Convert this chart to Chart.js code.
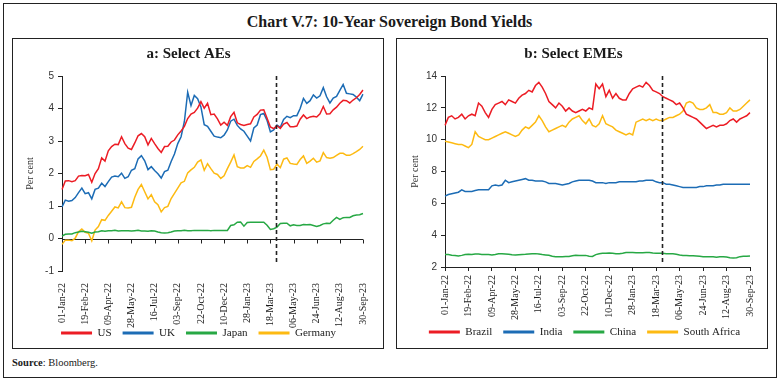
<!DOCTYPE html>
<html>
<head>
<meta charset="utf-8">
<script src="https://cdn.jsdelivr.net/npm/chart.js@4.4.0/dist/chart.umd.min.js"></script>
<style>
  html, body { margin: 0; padding: 0; background: #fff; }
  #wrap { position: relative; width: 779px; height: 381px; overflow: hidden; font-family: 'Liberation Serif', serif; color: #1a1a1a; }
  #frame { position: absolute; left: 3px; top: 3px; width: 774px; height: 375px; border: 1px solid #222; box-sizing: border-box; }
  #title { position: absolute; left: 0; top: 12px; width: 779px; text-align: center; font-weight: bold; font-size: 16px; line-height: 20px; }
  .panel { position: absolute; top: 38px; width: 372px; height: 311px; border: 1px solid #222; box-sizing: border-box; }
  #pa { left: 12px; }
  #pb { left: 396px; }
  canvas { position: absolute; left: 0; top: 0; }
  #source { position: absolute; left: 12px; top: 356px; font-size: 10.5px; line-height: 14px; }
</style>
</head>
<body>
<div id="wrap">
  <div id="frame"></div>
  <div id="title">Chart V.7: 10-Year Sovereign Bond Yields</div>
  <div class="panel" id="pa"><canvas id="ca" width="370" height="309"></canvas></div>
  <div class="panel" id="pb"><canvas id="cb" width="370" height="309"></canvas></div>
  <div id="source"><b>Source</b>: Bloomberg.</div>
</div>
<script>
// ---------- DATA ----------
const TICK_LABELS = ['01-Jan-22','19-Feb-22','09-Apr-22','28-May-22','16-Jul-22','03-Sep-22','22-Oct-22',
  '10-Dec-22','28-Jan-23','18-Mar-23','06-May-23','24-Jun-23','12-Aug-23','30-Sep-23'];
const N_WEEKS = 92;                 // weekly observations, 01-Jan-22 .. 30-Sep-23
const MARKER_WEEK = 64.8;           // dashed vertical marker (end-March 2023)

const US = [1.51,1.77,1.78,1.75,1.78,1.92,1.94,1.93,1.97,1.73,2.00,2.15,2.48,2.38,2.70,2.83,2.90,2.89,3.13,2.92,
  2.78,2.74,2.94,3.16,3.23,3.13,2.88,3.08,2.92,2.77,2.65,2.83,2.84,2.97,3.03,3.19,3.31,3.45,3.69,3.83,
  3.88,4.01,4.21,4.01,4.16,3.81,3.83,3.68,3.49,3.58,3.48,3.75,3.88,3.56,3.51,3.48,3.51,3.53,3.74,3.82,
  3.95,3.96,3.70,3.43,3.38,3.47,3.39,3.52,3.57,3.44,3.44,3.46,3.67,3.80,3.69,3.74,3.76,3.74,3.84,4.06,
  3.83,3.84,3.96,4.04,4.16,4.25,4.24,4.17,4.26,4.33,4.43,4.57];
const UK = [0.97,1.18,1.15,1.17,1.26,1.41,1.55,1.38,1.41,1.22,1.51,1.55,1.70,1.60,1.75,1.89,1.92,1.90,2.01,1.85,
  1.90,2.10,2.15,2.45,2.55,2.39,2.12,2.21,2.09,1.99,1.86,2.06,2.10,2.37,2.60,2.92,3.13,3.60,4.50,4.09,
  4.40,4.30,4.05,3.50,3.45,3.30,3.15,3.12,3.10,3.18,3.34,3.61,3.67,3.48,3.37,3.30,3.15,3.00,3.40,3.49,
  3.81,3.85,3.63,3.28,3.34,3.49,3.42,3.66,3.76,3.72,3.78,3.78,4.00,4.31,4.16,4.24,4.42,4.32,4.39,4.64,
  4.36,4.17,4.32,4.37,4.56,4.74,4.47,4.45,4.43,4.35,4.24,4.44];
const JAPAN = [0.07,0.13,0.14,0.14,0.18,0.20,0.22,0.21,0.19,0.16,0.20,0.21,0.24,0.22,0.24,0.24,0.25,0.23,0.24,0.24,
  0.24,0.23,0.24,0.25,0.23,0.23,0.22,0.24,0.23,0.20,0.18,0.17,0.18,0.20,0.23,0.24,0.24,0.25,0.24,0.24,
  0.25,0.25,0.25,0.25,0.25,0.24,0.25,0.25,0.25,0.25,0.25,0.40,0.42,0.50,0.51,0.38,0.49,0.50,0.50,0.50,
  0.50,0.50,0.41,0.28,0.30,0.35,0.46,0.47,0.47,0.39,0.42,0.40,0.40,0.43,0.42,0.43,0.40,0.37,0.40,0.45,
  0.47,0.46,0.56,0.65,0.59,0.64,0.65,0.65,0.70,0.72,0.73,0.77];
const GERMANY = [-0.18,-0.05,-0.05,-0.07,0.01,0.21,0.29,0.19,0.16,-0.07,0.26,0.37,0.58,0.56,0.71,0.84,0.97,0.94,1.13,0.95,
  0.94,0.96,1.27,1.51,1.66,1.44,1.22,1.35,1.13,1.04,0.82,0.95,0.99,1.23,1.39,1.55,1.71,1.76,2.02,2.11,
  2.19,2.35,2.42,2.10,2.30,2.15,2.01,1.97,1.85,1.93,2.15,2.35,2.57,2.21,2.17,2.17,2.24,2.19,2.37,2.45,
  2.54,2.72,2.50,2.12,2.13,2.29,2.18,2.44,2.48,2.31,2.29,2.28,2.43,2.54,2.31,2.38,2.47,2.35,2.39,2.64,
  2.49,2.47,2.49,2.56,2.62,2.62,2.56,2.56,2.61,2.67,2.74,2.84];

const BRAZIL = [10.9,11.4,11.5,11.3,11.4,11.6,11.3,11.5,11.6,11.5,12.3,12.1,11.7,11.4,11.9,12.2,12.3,12.4,12.2,12.5,
  12.4,12.3,12.6,12.8,12.9,13.1,13.0,13.4,13.6,13.3,12.9,12.4,12.2,12.0,12.3,12.1,11.8,12.0,11.8,11.7,
  11.8,11.9,11.8,12.0,11.9,13.5,13.2,13.5,12.7,13.1,12.6,12.9,12.6,12.5,12.5,12.9,13.2,13.3,13.4,13.3,
  13.6,13.4,13.1,13.0,12.9,12.7,12.6,12.5,12.4,12.2,12.3,12.0,11.6,11.5,11.4,11.3,11.1,10.9,10.7,10.8,
  10.9,10.8,10.9,10.9,11.0,11.2,11.3,11.1,11.3,11.4,11.5,11.7];
const INDIA = [6.45,6.55,6.60,6.65,6.70,6.85,6.75,6.75,6.75,6.80,6.85,6.85,6.85,6.85,7.10,7.15,7.10,7.15,7.45,7.30,
  7.35,7.40,7.45,7.50,7.55,7.45,7.45,7.40,7.40,7.40,7.35,7.25,7.25,7.25,7.20,7.15,7.20,7.25,7.35,7.40,
  7.45,7.45,7.45,7.45,7.40,7.30,7.30,7.30,7.25,7.30,7.30,7.30,7.35,7.35,7.35,7.35,7.35,7.35,7.40,7.40,
  7.45,7.45,7.45,7.35,7.30,7.30,7.20,7.20,7.15,7.10,7.05,7.00,7.00,7.00,7.00,7.00,7.05,7.05,7.10,7.10,
  7.10,7.15,7.15,7.20,7.20,7.20,7.20,7.20,7.20,7.20,7.20,7.20];
const CHINA = [2.78,2.79,2.74,2.72,2.69,2.73,2.78,2.80,2.79,2.82,2.81,2.79,2.79,2.78,2.76,2.79,2.83,2.84,2.82,2.80,
  2.77,2.75,2.77,2.79,2.80,2.82,2.83,2.84,2.81,2.78,2.76,2.74,2.67,2.64,2.64,2.65,2.66,2.66,2.70,2.74,
  2.73,2.72,2.73,2.68,2.66,2.78,2.83,2.86,2.87,2.88,2.87,2.84,2.84,2.87,2.91,2.91,2.91,2.90,2.90,2.89,
  2.91,2.91,2.88,2.87,2.86,2.86,2.84,2.83,2.83,2.80,2.76,2.73,2.72,2.71,2.70,2.69,2.67,2.64,2.65,2.64,
  2.65,2.62,2.65,2.64,2.63,2.58,2.56,2.58,2.65,2.67,2.67,2.69];
const SOUTH_AFRICA = [9.90,9.85,9.80,9.75,9.70,9.70,9.60,9.50,9.70,10.5,10.2,10.1,10.0,10.0,10.1,10.2,10.3,10.4,10.5,10.4,
  10.3,10.2,10.3,10.6,10.8,10.7,10.9,11.1,11.5,11.2,10.8,10.5,10.6,10.7,10.8,10.9,10.8,11.1,11.3,11.4,
  11.5,11.2,11.0,11.3,10.9,10.8,11.0,11.5,11.0,10.9,10.8,10.6,10.5,10.4,10.3,10.4,10.3,11.1,11.2,11.3,
  11.2,11.3,11.2,11.3,11.2,11.2,11.3,11.4,11.4,11.5,11.6,11.8,12.3,12.4,12.3,12.0,11.9,11.9,12.0,12.2,
  11.7,11.7,11.6,11.6,11.7,12.0,11.8,11.8,11.9,12.1,12.3,12.5];

const COLORS = { red: '#ec1c24', blue: '#1c6cb5', green: '#27a844', yellow: '#fdba12' };

// weekly category labels (dd-Mon-yy)
const MONTHS = ['Jan','Feb','Mar','Apr','May','Jun','Jul','Aug','Sep','Oct','Nov','Dec'];
const WEEKS = [];
for (let i = 0; i < N_WEEKS; i++) {
  const d = new Date(Date.UTC(2022, 0, 1 + 7 * i));
  WEEKS.push(String(d.getUTCDate()).padStart(2, '0') + '-' + MONTHS[d.getUTCMonth()] + '-' + String(d.getUTCFullYear()).slice(2));
}

// ---------- PLUGINS ----------
const markerLine = {
  id: 'markerLine',
  afterDatasetsDraw(chart, args, opts) {
    const { ctx, chartArea, scales: { x } } = chart;
    const px = Math.round(x.getPixelForValue(opts.value)) + 0.5;
    ctx.save();
    ctx.strokeStyle = '#222';
    ctx.lineWidth = 1.6;
    ctx.setLineDash([4, 3]);
    ctx.beginPath();
    ctx.moveTo(px, chartArea.top);
    ctx.lineTo(px, chartArea.bottom - opts.bottomGap);
    ctx.stroke();
    ctx.restore();
  }
};
const zeroAxis = {
  id: 'zeroAxis',
  beforeDatasetsDraw(chart, args, opts) {
    if (!opts.enabled) return;
    const { ctx, chartArea, scales: { x, y } } = chart;
    const y0 = Math.round(y.getPixelForValue(0)) + 0.5;
    ctx.save();
    ctx.strokeStyle = '#222';
    ctx.lineWidth = 1;
    ctx.beginPath();
    ctx.moveTo(chartArea.left, y0);
    ctx.lineTo(x.getPixelForValue(N_WEEKS - 1), y0);
    WEEKS.forEach((w, i) => {
      if (TICK_LABELS.includes(w)) {
        const px = Math.round(x.getPixelForValue(i)) + 0.5;
        ctx.moveTo(px, y0);
        ctx.lineTo(px, y0 + 4);
      }
    });
    ctx.stroke();
    ctx.restore();
  }
};
// place the legend row at a given vertical centre / horizontal offset
const legendPlace = {
  id: 'legendPlace',
  afterLayout(chart, args, opts) {
    const lg = chart.legend;
    if (!lg) return;
    const pad = lg.options.labels.padding;
    const fs = lg.options.labels.font.size;
    const dy = opts.centerY - (lg.top + pad + fs / 2);
    lg.top += dy;
    lg.bottom += dy;
    lg.left += opts.dx;
    lg.right += opts.dx;
  }
};

function ds(label, data, color) {
  return { label, data, borderColor: color, backgroundColor: color, borderWidth: 1.5,
           pointRadius: 0, pointHoverRadius: 0, tension: 0, fill: false };
}

function makeChart(id, cfg) {
  const serif = "'Liberation Serif', serif";
  return new Chart(document.getElementById(id), {
    type: 'line',
    data: { labels: WEEKS, datasets: cfg.datasets },
    options: {
      responsive: false, animation: false, devicePixelRatio: 1,
      layout: { padding: { left: 0, right: cfg.padRight, top: 0, bottom: cfg.padBottom } },
      plugins: {
        title: { display: true, text: cfg.title, color: '#1a1a1a',
                 font: { family: serif, size: 15, weight: 'bold' }, padding: { top: 6, bottom: 13 } },
        legend: { display: true, position: 'bottom',
          labels: { boxWidth: 31, boxHeight: 3, padding: 11, color: '#1a1a1a',
                    font: { family: serif, size: 11 },
                    generateLabels: (chart) => Chart.defaults.plugins.legend.labels.generateLabels(chart)
                      .map(l => Object.assign(l, { lineWidth: 0 })) } },
        tooltip: { enabled: false },
        markerLine: { value: MARKER_WEEK, bottomGap: cfg.markerGap },
        zeroAxis: { enabled: cfg.zeroAxis },
        legendPlace: { centerY: cfg.legendY, dx: cfg.legendDx }
      },
      scales: {
        x: {
          type: 'category',
          grid: { display: !cfg.zeroAxis, drawOnChartArea: false, drawTicks: true, tickLength: 4, color: '#222', tickColor: '#222' },
          border: { display: !cfg.zeroAxis, color: '#222', width: 1 },
          ticks: { autoSkip: false, maxRotation: 90, minRotation: 90, padding: cfg.xPad, color: '#1a1a1a',
                   font: { family: serif, size: 10 },
                   callback: (v, i) => TICK_LABELS.includes(WEEKS[i]) ? WEEKS[i] : null },
          afterFit: (s) => { s.height = cfg.xHeight; }
        },
        y: {
          min: cfg.yMin, max: cfg.yMax,
          grid: { display: true, drawOnChartArea: false, drawTicks: true, tickLength: 4, color: '#222', tickColor: '#222' },
          border: { display: true, color: '#222', width: 1 },
          ticks: { stepSize: cfg.yStep, padding: 4, color: '#333', font: { family: "'Liberation Sans', sans-serif", size: 10 } },
          title: { display: true, text: 'Per cent', color: '#333', font: { family: serif, size: 10 }, padding: { top: cfg.yTitlePad, bottom: 0 } },
          afterFit: (s) => { s.width = cfg.yWidth; }
        }
      }
    },
    plugins: [markerLine, zeroAxis, legendPlace]
  });
}

makeChart('ca', {
  title: 'a: Select AEs',
  datasets: [ds('US', US, COLORS.red), ds('UK', UK, COLORS.blue), ds('Japan', JAPAN, COLORS.green), ds('Germany', GERMANY, COLORS.yellow)],
  yMin: -1, yMax: 5, yStep: 1, yWidth: 49, yTitlePad: 11, padRight: 19, padBottom: -13, xHeight: 58, xPad: 8,
  zeroAxis: true, markerGap: 6, legendY: 294, legendDx: 10
});
makeChart('cb', {
  title: 'b: Select EMEs',
  datasets: [ds('Brazil', BRAZIL, COLORS.red), ds('India', INDIA, COLORS.blue), ds('China', CHINA, COLORS.green), ds('South Africa', SOUTH_AFRICA, COLORS.yellow)],
  yMin: 2, yMax: 14, yStep: 2, yWidth: 48, yTitlePad: 12, padRight: 17, padBottom: -9, xHeight: 58, xPad: 4,
  zeroAxis: false, markerGap: 3, legendY: 293, legendDx: 11
});
</script>
</body>
</html>
